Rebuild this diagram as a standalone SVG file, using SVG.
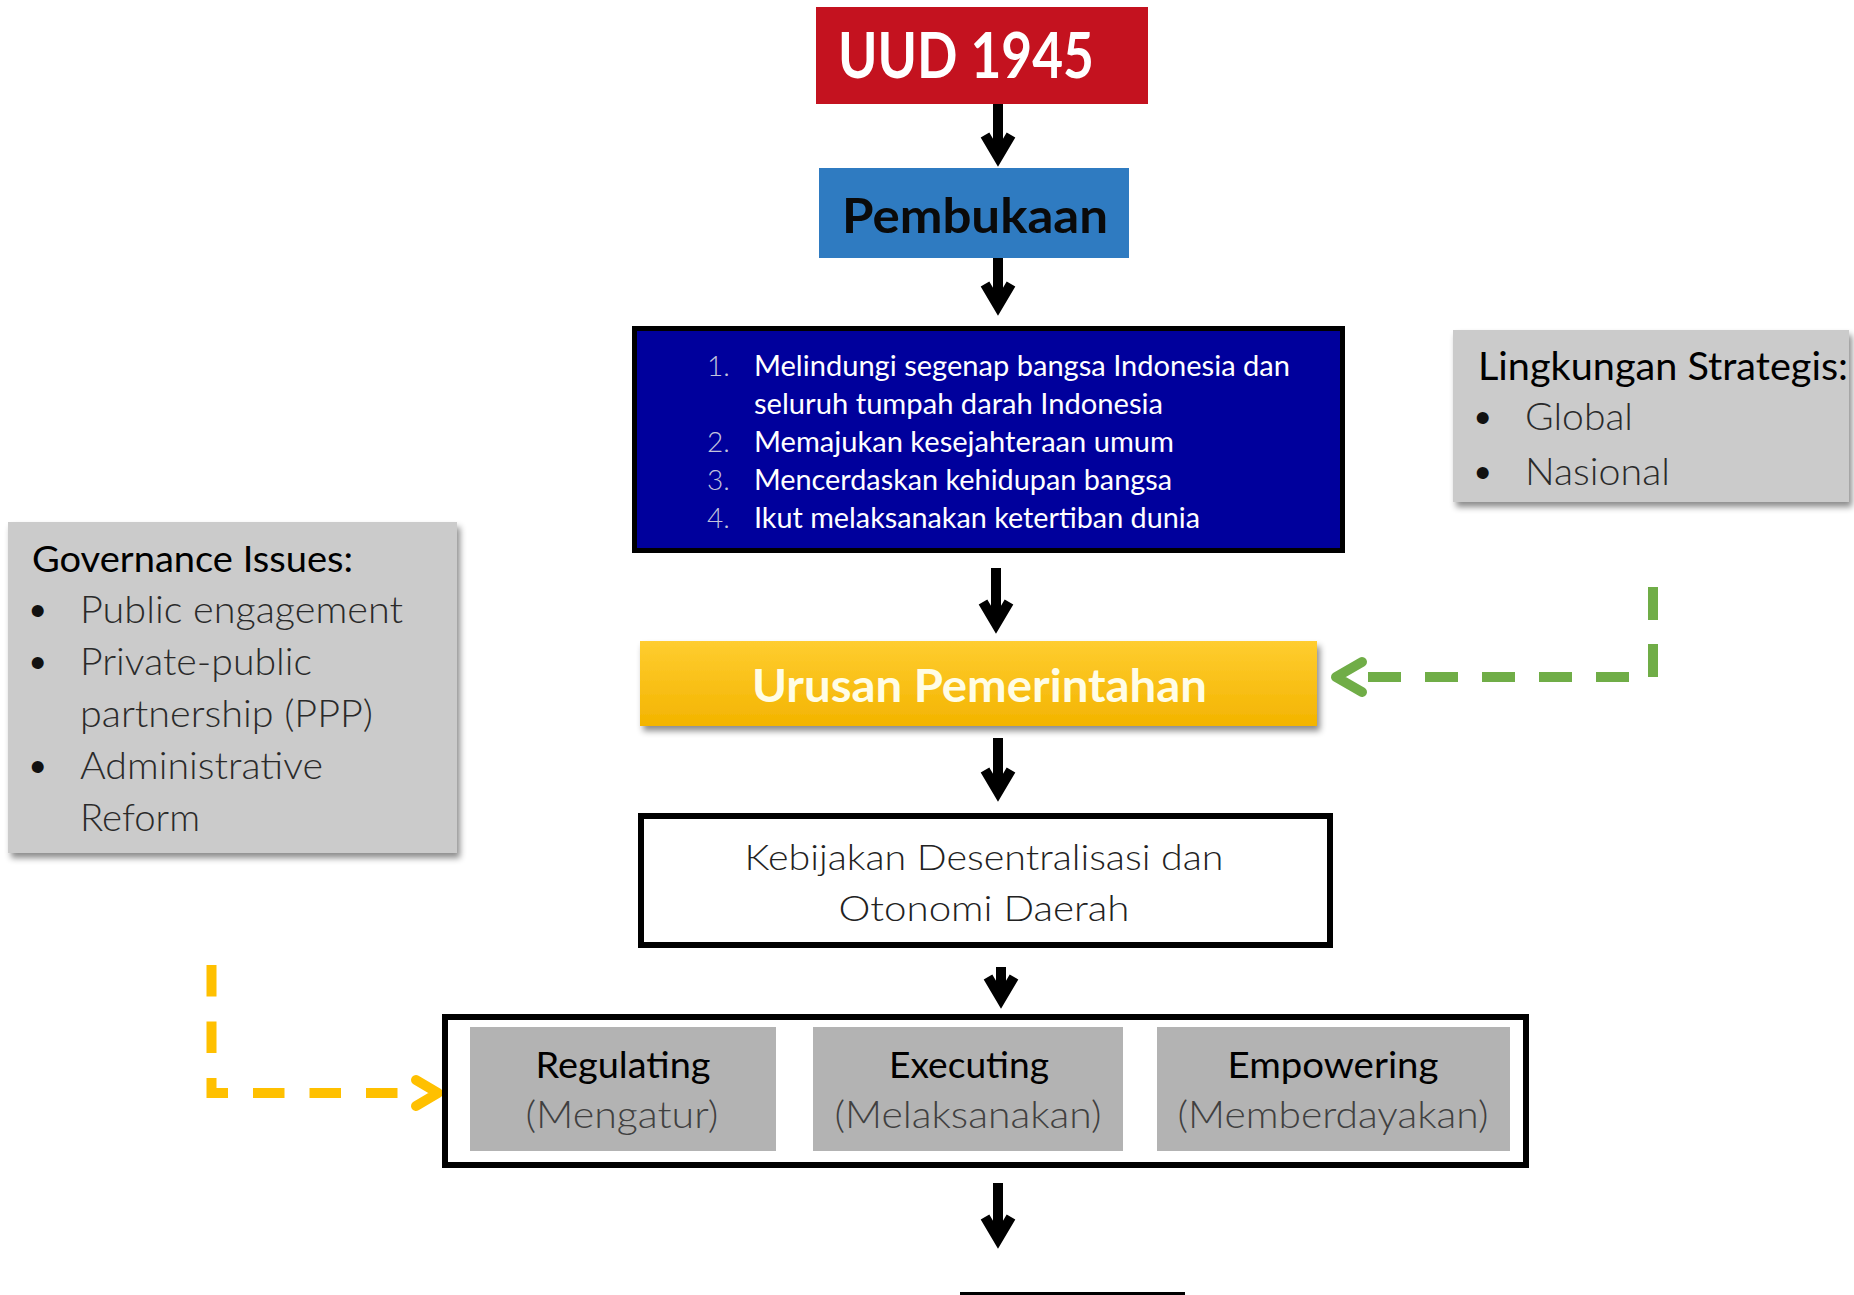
<svg xmlns="http://www.w3.org/2000/svg" width="1854" height="1295" viewBox="0 0 1854 1295">
  <style>
    .t { font-family: Lato, "Open Sans", "Liberation Sans", sans-serif; }
    .b { font-weight: 700; }
    .lt { font-weight: 300; }
    .dot { font-family: "Liberation Sans", Arial, sans-serif; font-size: 44px; fill: #111; }
    .frame { fill: #ffffff; stroke: #000000; stroke-width: 6; }
    .panel { fill: #cbcbcb; filter: url(#shadow); }
    .role { fill: #b3b3b3; }
    .flow { fill: none; stroke: #000000; stroke-width: 10; marker-end: url(#head); }
    .dash-g { fill: none; stroke: #70ad47; stroke-width: 10; stroke-dasharray: 33 24; }
    .dash-y { fill: none; stroke: #ffc000; stroke-width: 10; stroke-dasharray: 31.5 25; }
    .chev-g { fill: none; stroke: #70ad47; stroke-width: 10; stroke-linecap: round; stroke-linejoin: round; }
    .chev-y { fill: none; stroke: #ffc000; stroke-width: 10; stroke-linecap: round; stroke-linejoin: round; }
  </style>
  <defs>
    <marker id="head" markerUnits="userSpaceOnUse" viewBox="-40 -30 60 60" markerWidth="60" markerHeight="60" refX="0" refY="0" orient="auto" overflow="visible">
      <polyline points="-21,-13 1,0 -21,13" fill="none" stroke="#000" stroke-width="10" stroke-linejoin="miter" stroke-miterlimit="10"/>
    </marker>
    <filter id="shadow" x="-10%" y="-10%" width="125%" height="130%">
      <feDropShadow dx="3" dy="5" stdDeviation="3" flood-color="#000" flood-opacity="0.45"/>
    </filter>
    <linearGradient id="gold" x1="0" y1="0" x2="0" y2="1">
      <stop offset="0" stop-color="#ffcd30"/>
      <stop offset="1" stop-color="#f3b400"/>
    </linearGradient>
  </defs>

  <rect width="1854" height="1295" fill="#ffffff"/>

  <!-- vertical flow and side inputs -->
  <g id="connectors">
    <path class="flow" d="M998,104 V156"/>
    <path class="flow" d="M998,258 V305"/>
    <path class="flow" d="M996,568 V623"/>
    <path class="flow" d="M998,738 V791"/>
    <path class="flow" d="M1001,967 V998"/>
    <path class="flow" d="M998,1183 V1238"/>
    <g id="edge-lingkungan">
      <path class="dash-g" d="M1653,587 V677 H1345"/>
      <polyline class="chev-g" points="1362,662 1336,677 1362,692"/>
    </g>
    <g id="edge-governance">
      <path class="dash-y" d="M211.5,965 V1093 H405"/>
      <polyline class="chev-y" points="416,1080 438,1093 416,1106"/>
    </g>
  </g>

  <g id="uud">
    <rect x="816" y="7" width="332" height="97" fill="#c4121f"/>
    <text class="t b" x="838" y="78" font-size="64" fill="#ffffff" textLength="256" lengthAdjust="spacingAndGlyphs">UUD 1945</text>
  </g>

  <g id="pembukaan">
    <rect x="819" y="168" width="310" height="90" fill="#2f7bc1"/>
    <text class="t b" x="842" y="233" font-size="48" fill="#0a0a0a" textLength="266" lengthAdjust="spacingAndGlyphs">Pembukaan</text>
  </g>

  <g id="tujuan">
    <rect x="634.5" y="328.5" width="708" height="222" fill="#00009c" stroke="#000" stroke-width="5"/>
    <g class="t lt" font-size="28" fill="#c4c4dc">
      <text x="707" y="376">1.</text>
      <text x="707" y="452">2.</text>
      <text x="707" y="490">3.</text>
      <text x="707" y="528">4.</text>
    </g>
    <g class="t" font-size="28" fill="#ffffff">
      <text x="754" y="376" textLength="536" lengthAdjust="spacingAndGlyphs">Melindungi segenap bangsa Indonesia dan</text>
      <text x="754" y="414" textLength="409" lengthAdjust="spacingAndGlyphs">seluruh tumpah darah Indonesia</text>
      <text x="754" y="452" textLength="420" lengthAdjust="spacingAndGlyphs">Memajukan kesejahteraan umum</text>
      <text x="754" y="490" textLength="418" lengthAdjust="spacingAndGlyphs">Mencerdaskan kehidupan bangsa</text>
      <text x="754" y="528" textLength="446" lengthAdjust="spacingAndGlyphs">Ikut melaksanakan ketertiban dunia</text>
    </g>
  </g>

  <g id="lingkungan">
    <rect class="panel" x="1453" y="330" width="396" height="172"/>
    <text class="t" x="1478" y="380" font-size="38" fill="#000" textLength="370" lengthAdjust="spacingAndGlyphs">Lingkungan Strategis:</text>
    <text class="dot" x="1475" y="433">•</text>
    <text class="dot" x="1475" y="488">•</text>
    <text class="t lt" x="1525" y="430" font-size="38" fill="#2a2a2a" textLength="108" lengthAdjust="spacingAndGlyphs">Global</text>
    <text class="t lt" x="1525" y="485" font-size="38" fill="#2a2a2a" textLength="145" lengthAdjust="spacingAndGlyphs">Nasional</text>
  </g>

  <g id="governance">
    <rect class="panel" x="8" y="522" width="449" height="331"/>
    <text class="t" x="32" y="572" font-size="37" fill="#000" textLength="321" lengthAdjust="spacingAndGlyphs">Governance Issues:</text>
    <text class="dot" x="30" y="626">•</text>
    <text class="dot" x="30" y="678">•</text>
    <text class="dot" x="30" y="782">•</text>
    <g class="t lt" font-size="38" fill="#2a2a2a">
      <text x="80" y="623" textLength="323" lengthAdjust="spacingAndGlyphs">Public engagement</text>
      <text x="80" y="675" textLength="232" lengthAdjust="spacingAndGlyphs">Private-public</text>
      <text x="80" y="727" textLength="293" lengthAdjust="spacingAndGlyphs">partnership (PPP)</text>
      <text x="80" y="779" textLength="243" lengthAdjust="spacingAndGlyphs">Administrative</text>
      <text x="80" y="831" textLength="120" lengthAdjust="spacingAndGlyphs">Reform</text>
    </g>
  </g>

  <g id="urusan">
    <rect x="640" y="641" width="677" height="85" fill="url(#gold)" filter="url(#shadow)"/>
    <text class="t b" x="752" y="702" font-size="45" fill="#fffde6" textLength="455" lengthAdjust="spacingAndGlyphs">Urusan Pemerintahan</text>
  </g>

  <g id="kebijakan">
    <rect class="frame" x="641" y="816" width="689" height="129"/>
    <g class="t lt" font-size="36" fill="#222" text-anchor="middle">
      <text x="984" y="870" textLength="479" lengthAdjust="spacingAndGlyphs">Kebijakan Desentralisasi dan</text>
      <text x="984" y="921" textLength="291" lengthAdjust="spacingAndGlyphs">Otonomi Daerah</text>
    </g>
  </g>

  <g id="fungsi">
    <rect class="frame" x="445" y="1017" width="1081" height="148"/>
    <g id="regulating">
      <rect class="role" x="470" y="1027" width="306" height="124"/>
      <text class="t" x="623" y="1078" font-size="36" fill="#000" text-anchor="middle" textLength="175" lengthAdjust="spacingAndGlyphs">Regulating</text>
      <text class="t lt" x="622" y="1128" font-size="37" fill="#404040" text-anchor="middle" textLength="193" lengthAdjust="spacingAndGlyphs">(Mengatur)</text>
    </g>
    <g id="executing">
      <rect class="role" x="813" y="1027" width="310" height="124"/>
      <text class="t" x="969" y="1078" font-size="36" fill="#000" text-anchor="middle" textLength="160" lengthAdjust="spacingAndGlyphs">Executing</text>
      <text class="t lt" x="968" y="1128" font-size="37" fill="#404040" text-anchor="middle" textLength="267" lengthAdjust="spacingAndGlyphs">(Melaksanakan)</text>
    </g>
    <g id="empowering">
      <rect class="role" x="1157" y="1027" width="353" height="124"/>
      <text class="t" x="1333" y="1078" font-size="36" fill="#000" text-anchor="middle" textLength="211" lengthAdjust="spacingAndGlyphs">Empowering</text>
      <text class="t lt" x="1333" y="1128" font-size="37" fill="#404040" text-anchor="middle" textLength="311" lengthAdjust="spacingAndGlyphs">(Memberdayakan)</text>
    </g>
  </g>

  <g id="next">
    <rect class="frame" x="963" y="1295" width="219" height="60"/>
  </g>
</svg>
